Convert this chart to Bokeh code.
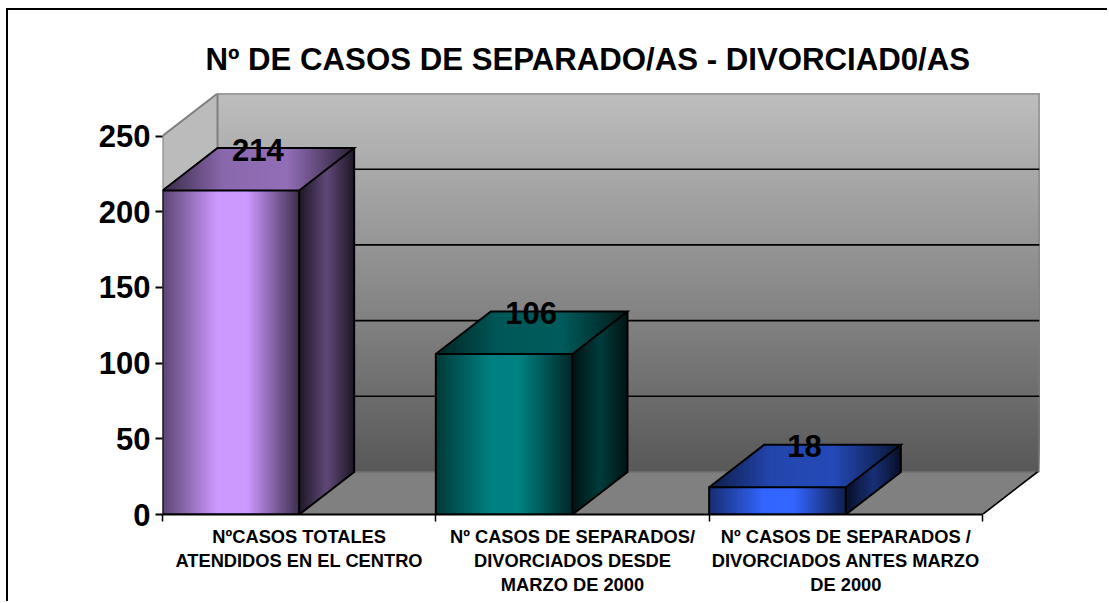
from bokeh.plotting import figure
from bokeh.embed import file_html
from bokeh.resources import INLINE
from bokeh.models import Range1d, LinearAxis, FixedTicker, Title
from bokeh.core.properties import value

categories = ["NºCASOS TOTALES\nATENDIDOS EN EL CENTRO",
              "Nº CASOS DE SEPARADOS/\nDIVORCIADOS DESDE\nMARZO DE 2000",
              "Nº CASOS DE SEPARADOS /\nDIVORCIADOS ANTES MARZO\nDE 2000"]
values = [214, 106, 18]
bar_colors = [(0xCC, 0x99, 0xFF), (0x00, 0x80, 0x80), (0x33, 0x66, 0xFF)]
y_ticks = [0, 50, 100, 150, 200, 250]
title_text = "Nº DE CASOS DE SEPARADO/AS - DIVORCIAD0/AS"

F = "Liberation Sans"
X_MAX, Y_MAX = 877 / 273.33, 421 / 1.514
DX, DY = 55 / 273.33, 42.5 / 1.514     # depth of the 3-D box, in data units
BAR = 0.5
N = 68

FRONT = [(0, .45), (.4, 1), (.62, 1), (1, .3)]
SIDE = [(0, .15), (.5, .47), (1, .15)]
TOP = [(0, .28), (.32, .68), (.65, .72), (1, .2)]


def prof(stops, t):
    for (a, va), (b, vb) in zip(stops, stops[1:]):
        if t <= b:
            return va + (vb - va) * (t - a) / (b - a)
    return stops[-1][1]


def shade(c, k):
    return "#%02x%02x%02x" % tuple(min(255, int(round(v * k))) for v in c)


p = figure(width=1101, height=593, output_backend="svg", toolbar_location=None,
           x_range=Range1d(0, X_MAX), y_range=Range1d(0, Y_MAX),
           x_axis_type=None, y_axis_type=None,
           min_border_left=154, min_border_right=70, min_border_top=83, min_border_bottom=89,
           background_fill_color=None, border_fill_color="white", outline_line_color=None,
           styles={"position": "absolute", "left": "6px", "top": "8px",
                   "border-left": "2px solid black", "border-top": "2px solid black"})
p.xgrid.visible = False
p.ygrid.visible = False

# back wall with vertical gradient (each band overlaps all the bands above it)
wx, wy, wc = [], [], []
M = 90
for i in range(M):
    a = i / M
    yb = DY + a * (Y_MAX - DY)
    wx.append([DX, X_MAX, X_MAX, DX])
    wy.append([yb, yb, Y_MAX, Y_MAX])
    g = int(round(0x58 + (0xBE - 0x58) * (i + .5) / M))
    wc.append("#%02x%02x%02x" % (g, g, g))
p.patches(wx, wy, fill_color=wc, line_color=None)
# side wall
p.patch([0, DX, DX, 0], [0, DY, Y_MAX, Y_MAX - DY], fill_color="#bbbbbb", line_color=None)
# wall outline
p.line([0, DX, X_MAX, X_MAX], [y_ticks[-1], Y_MAX, Y_MAX, DY], line_color="#808080", line_width=2)
p.line([DX, DX], [DY, Y_MAX], line_color="#808080", line_width=2)
p.line([0, 0], [0, y_ticks[-1]], line_color="#808080", line_width=2)
# grid on the back wall
gv = y_ticks[1:-1]
p.segment([DX] * len(gv), [v + DY for v in gv], [X_MAX] * len(gv), [v + DY for v in gv],
          line_color="black", line_width=1.6)
# floor
ncat = len(values)
p.patch([0, ncat, ncat + DX, DX], [0, 0, DY, DY], fill_color="#808080", line_color=None)
p.line([DX, X_MAX], [DY, DY], line_color="#707070", line_width=1.5)
p.line([ncat, ncat + DX], [0, DY], line_color="black", line_width=1.6)

# bars
for i, (v, c) in enumerate(zip(values, bar_colors)):
    x0, x1 = i, i + BAR
    xs, ys, cols = [], [], []
    # side
    S = N // 2
    xe = x1 + DX
    for k in range(S):
        a = k / S
        xa = x1 + a * DX
        xs.append([xa, xe, xe, xa])
        ys.append([a * DY, DY, v + DY, v + a * DY])
        cols.append(shade(c, prof(SIDE, (k + .5) / S)))
    # front
    for k in range(N):
        a = k / N
        xa = x0 + a * BAR
        xs.append([xa, x1, x1, xa])
        ys.append([0, 0, v, v])
        cols.append(shade(c, prof(FRONT, (k + .5) / N)))
    # top: vertical slices of the parallelogram

    def low(x):
        return v if x <= x1 else v + (x - x1) / DX * DY

    def up(x):
        return v + DY if x >= x0 + DX else v + (x - x0) / DX * DY

    T = 96
    w = BAR + DX
    for k in range(T):
        xa = x0 + k / T * w
        kink_lo = [(x1, v)] if xa < x1 else []
        kink_up = [(x0 + DX, v + DY)] if xa < x0 + DX else []
        pts = [(xa, low(xa))] + kink_lo + [(xe, v + DY)] + kink_up + [(xa, up(xa))]
        xs.append([q[0] for q in pts])
        ys.append([q[1] for q in pts])
        cols.append(shade(c, prof(TOP, (k + .5) / T)))
    p.patches(xs, ys, fill_color=cols, line_color=None)
    # outlines
    p.multi_line([[x0, x1, x1, x0, x0], [x0, x0 + DX, x1 + DX, x1], [x1 + DX, x1 + DX, x1]],
                 [[0, 0, v, v, 0], [v, v + DY, v + DY, v], [v + DY, DY, 0]],
                 line_color="black", line_width=2, line_join="miter")

# data labels
p.text(x=[i + BAR / 2 + DX / 2 for i in range(ncat)], y=[v + DY for v in values],
       text=[str(v) for v in values], text_font=value(F), text_font_style="bold",
       text_font_size="31px", text_color="black", text_align="center", text_baseline="middle",
       x_offset=-0.5, y_offset=1.5)

# axes
yax = LinearAxis(ticker=FixedTicker(ticks=y_ticks), axis_line_color=None,
                 major_tick_line_color="black", major_tick_line_width=2,
                 major_tick_out=7, major_tick_in=0, minor_tick_line_color=None,
                 major_label_standoff=5, major_label_text_font=F,
                 major_label_text_font_style="bold", major_label_text_font_size="31px",
                 major_label_text_color="black")
p.add_layout(yax, "left")

xax = LinearAxis(ticker=FixedTicker(ticks=[i + .5 for i in range(ncat)],
                                    minor_ticks=list(range(ncat + 1))),
                 bounds=(0, ncat), axis_line_color="black", axis_line_width=2,
                 major_tick_line_color=None, minor_tick_line_color="black",
                 minor_tick_line_width=1.5, minor_tick_out=7, minor_tick_in=0,
                 major_label_overrides={i + .5: categories[i] for i in range(ncat)},
                 major_label_standoff=4, major_label_text_font=F,
                 major_label_text_font_style="bold", major_label_text_font_size="18.3px",
                 major_label_text_color="black", major_label_text_line_height=1.15,
                 major_label_orientation="horizontal")
p.add_layout(xax, "below")

p.add_layout(Title(text=title_text, align="left", offset=43, standoff=33,
                   text_font=F, text_font_style="bold", text_font_size="31.2px",
                   text_color="black"), "above")

open("out.html", "w").write(file_html(p, INLINE))
